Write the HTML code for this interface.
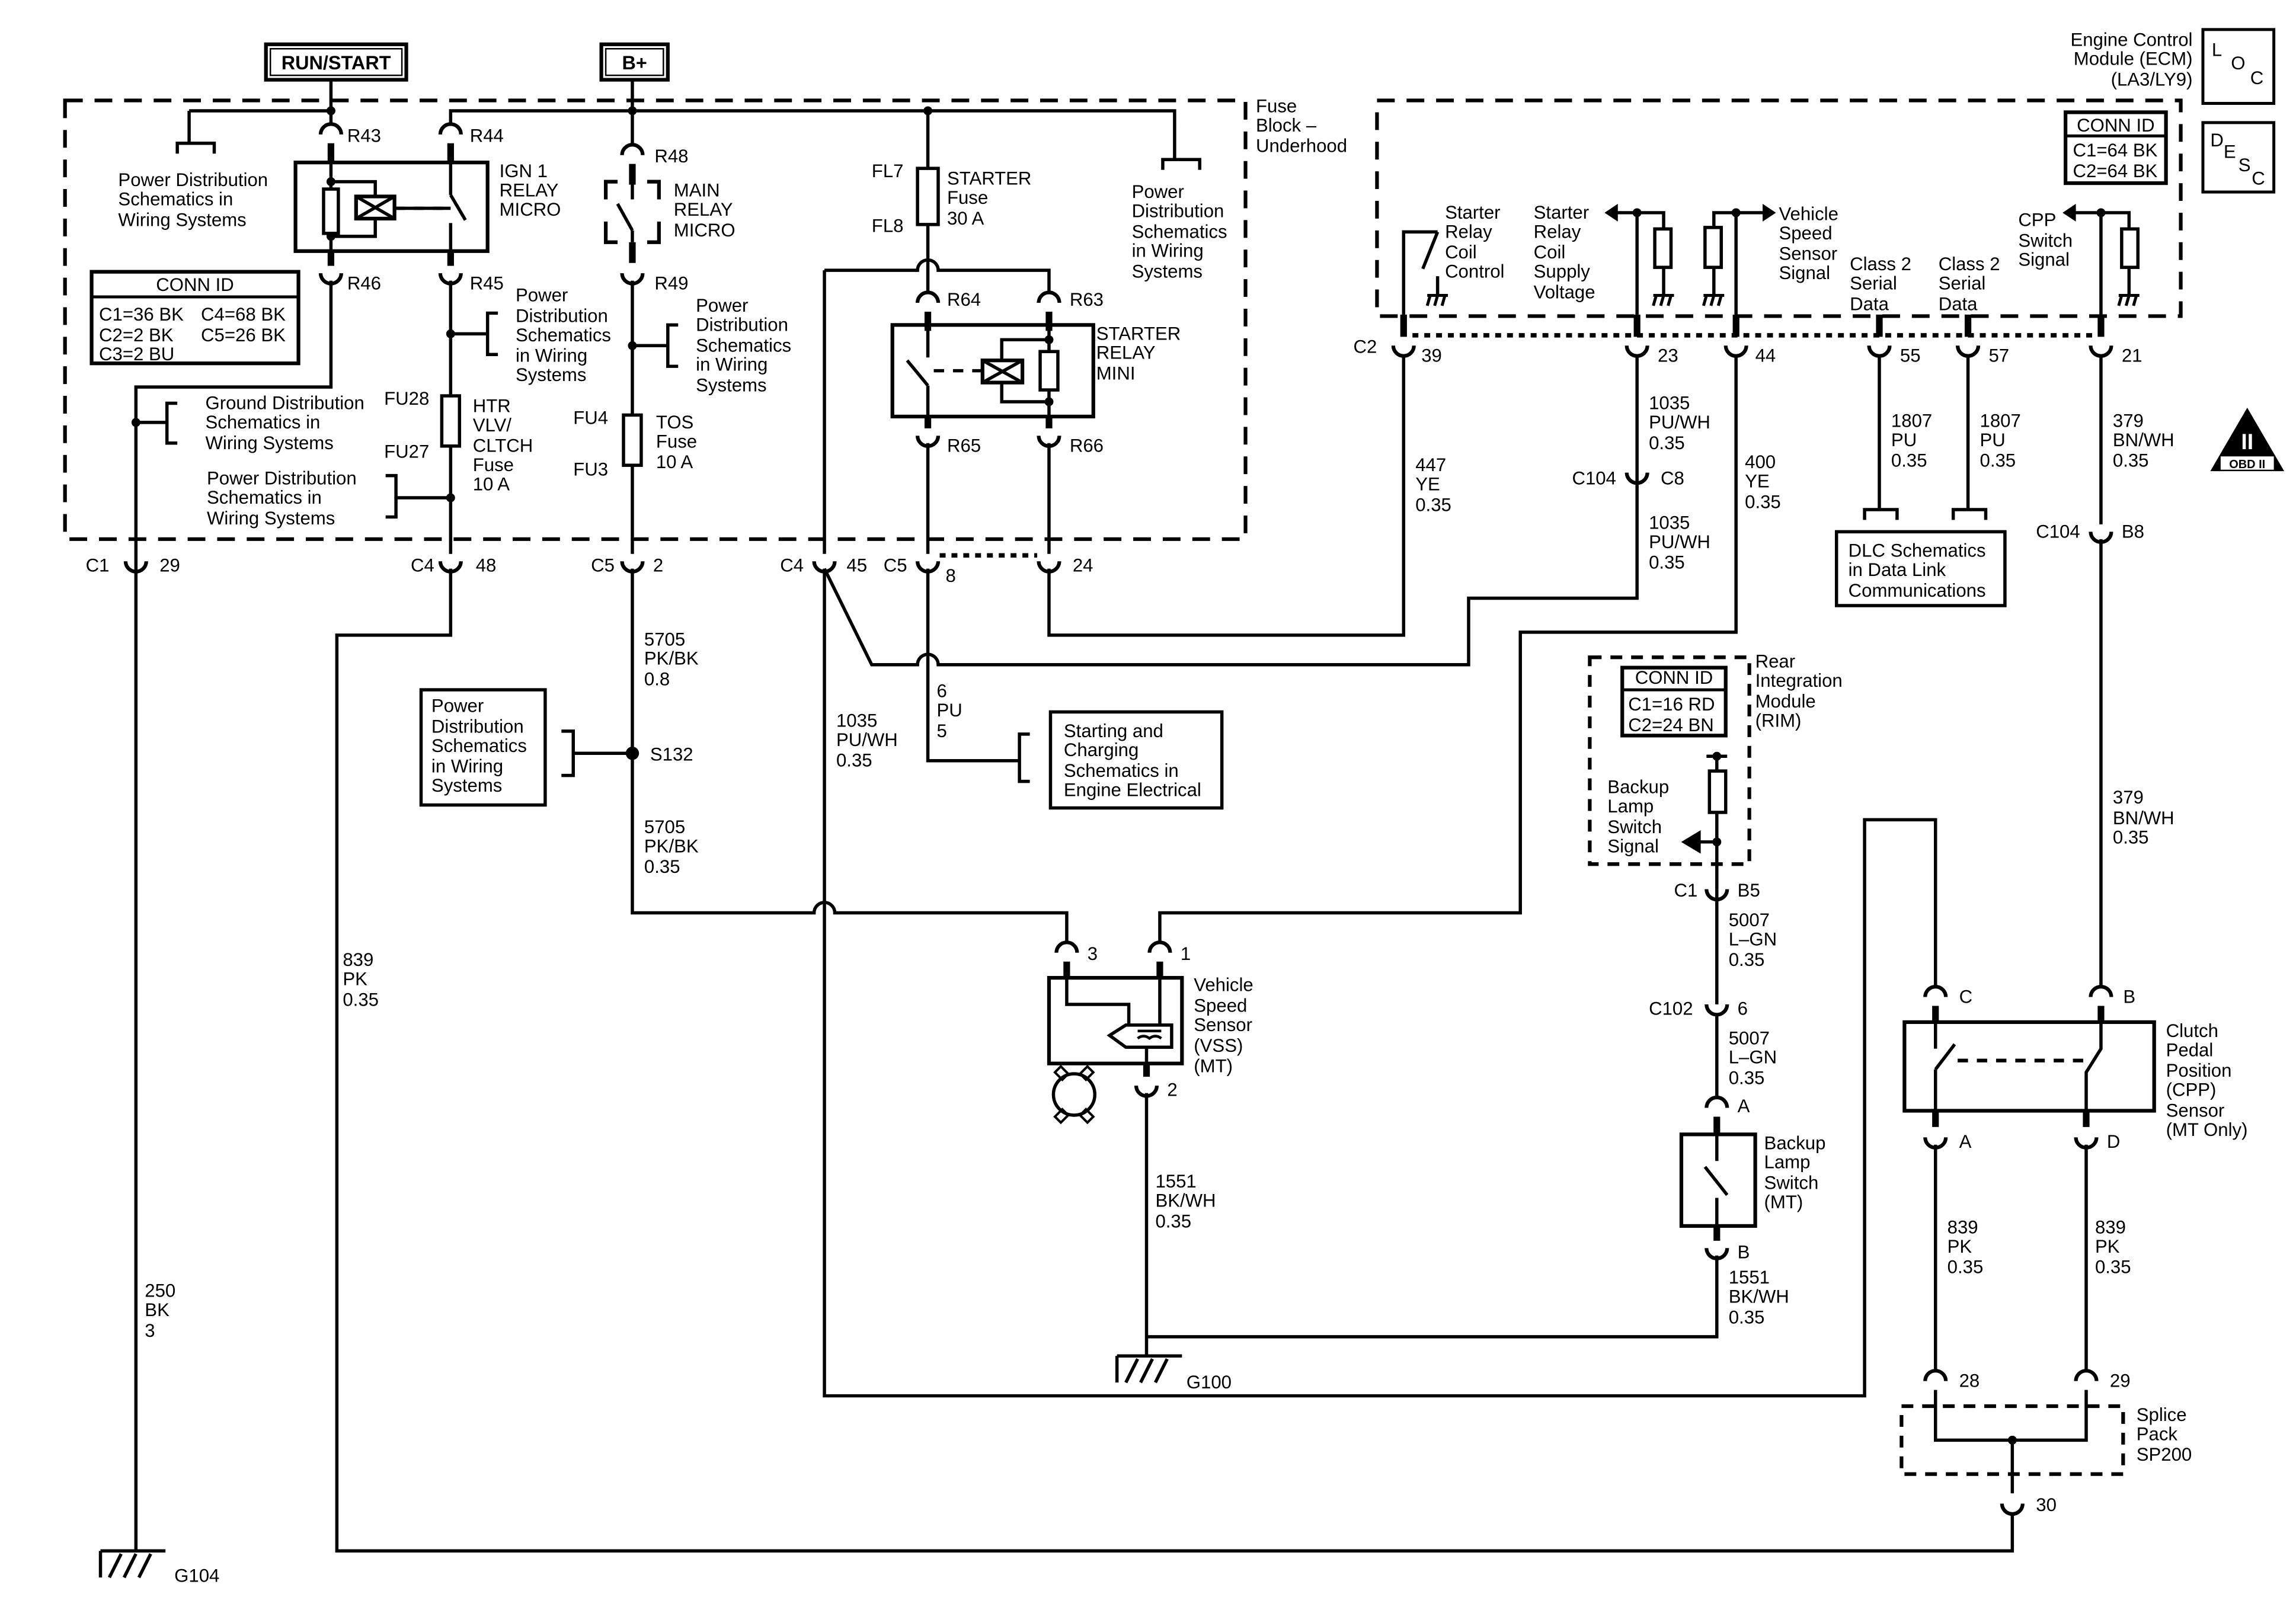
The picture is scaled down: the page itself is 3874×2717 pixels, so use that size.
<!DOCTYPE html>
<html><head><meta charset="utf-8"><style>
html,body{margin:0;padding:0;background:#fff}
svg{display:block}
text{font-family:"Liberation Sans",Arial,sans-serif;font-size:12.5px;fill:#000}
</style></head><body>
<svg width="3874" height="2717" viewBox="0 0 1554 1090" preserveAspectRatio="none" xmlns="http://www.w3.org/2000/svg">
<defs>
<path id="cup" d="M-7,-6 A7,7 0 0 0 7,-6" fill="none" stroke="#000" stroke-width="2.5"/>
<path id="cap" d="M-7,6 A7,7 0 0 1 7,6" fill="none" stroke="#000" stroke-width="2.5"/>
<g id="gnd" stroke="#000" stroke-width="2" fill="none"><path d="M-7,0 H7 M-5,0 L-7,7 M0,0 L-2,7 M5,0 L3,7"/></g>
</defs>
<rect width="1554" height="1090" fill="#fff"/>
<g fill="none" stroke="#000" stroke-width="2.2">
<!-- top boxes -->
<rect x="180" y="30" width="95" height="24" stroke-width="2.5"/>
<rect x="183" y="33" width="89" height="18" stroke-width="1"/>
<rect x="407" y="30" width="45" height="24" stroke-width="2.5"/>
<rect x="410" y="33" width="39" height="18" stroke-width="1"/>
<!-- fuse block dashed -->
<rect x="44" y="68" width="799" height="297" stroke-width="2.5" stroke-dasharray="12,8"/>
<!-- ECM dashed -->
<rect x="932" y="68" width="544" height="146" stroke-width="2.5" stroke-dasharray="12,8"/>
<!-- RUN/START -->
<path d="M224,54 V84 M128,75 H224 M128,75 V97 M120,104 V97 H145 V104"/>
<path d="M224,97 V110 M305,97 V110 M224,170 V180 M305,170 V180" stroke-width="4.5"/>
<rect x="200" y="110" width="130" height="60" stroke-width="2.5"/>
<path d="M224,110 V170 M224,123 H254 V133 M224,160 H254 V148 M267,141 H305 M305,110 V132 M305,132 L315,149 M305,151 V170"/>
<path d="M267,141 H305" stroke-dasharray="7,6"/>
<rect x="219" y="128" width="10" height="30" fill="#fff"/>
<rect x="241" y="133" width="26" height="15" stroke-width="2.5"/>
<path d="M241,133 L267,148 M241,148 L267,133"/>
<path d="M224,190 V262 H92 V1050"/>
<path d="M92,286 H113 M120,273 H113 V300 H120"/>
<!-- B+ bus -->
<path d="M428,54 V98 M305,84 V75 H795 V108 M787,115 V108 H812 V115"/>
<!-- 305 line -->
<path d="M305,190 V268 M305,302 V375 M305,226 H330 M337,212 H330 V240 H337 M305,337 H268 M261,322 H268 V350 H261"/>
<rect x="299" y="268" width="12" height="34" fill="#fff"/>
<!-- main relay -->
<path d="M428,111 V125 M428,164 V178" stroke-width="4.5"/>
<path d="M418,123 H410 V135 M438,123 H446 V135 M410,150 V164 H418 M446,150 V164 H438" stroke-width="2.5"/>
<path d="M428,123 V135 M418,138 L428,156 M428,156 V164"/>
<path d="M428,190 V281 M428,315 V375 M428,234 H452 M459,220 H452 V248 H459"/>
<rect x="422" y="281" width="12" height="34" fill="#fff"/>
<!-- starter fuse & relay -->
<path d="M628,75 V114 M628,152 V198 M558,183 H621 A7,7 0 0 1 635,183 H710 V198 M558,183 V375"/>
<rect x="621" y="114" width="14" height="38" fill="#fff"/>
<path d="M628,211 V224 M710,211 V224 M628,282 V290 M710,282 V290" stroke-width="4.5"/>
<rect x="604" y="220" width="136" height="62" stroke-width="2.5"/>
<path d="M628,220 V242 M614,244 L628,261 M628,261 V282 M710,220 V282 M710,230 H678 V244 M710,272 H678 V259"/>
<path d="M632,251 H665" stroke-dasharray="7,6"/>
<rect x="665" y="244" width="27" height="15" stroke-width="2.5"/>
<path d="M665,244 L692,259 M665,259 L692,244"/>
<rect x="704" y="238" width="12" height="26" fill="#fff"/>
<!-- bottom row -->
<path d="M628,300 V375 M710,300 V375"/>
<path d="M636,376 H702" stroke-dasharray="4,4" stroke-width="3"/>
<!-- below fuse block -->
<path d="M305,385 V430 H228 V1050 H1362 V1025"/>
<path d="M428,385 V618 H551 A7,7 0 0 1 565,618 H722 V638"/>
<path d="M428,510 H388 M380,495 H388 V525 H380"/>
<rect x="285" y="467" width="84" height="78" stroke-width="2.2"/>
<path d="M558,385 V945 H1262 V555 H1310 V668"/>
<path d="M558,385 L590,450 H621 A7,7 0 0 1 635,450 H994 V405 H1108 V240"/>
<path d="M950,240 V430 H710 V385"/>
<path d="M1175,240 V428 H1029 V618 H785 V638"/>
<path d="M628,385 V515 H690 M697,497 H690 V529 H697"/>
<rect x="711" y="482" width="116" height="65" stroke-width="2.2"/>
<!-- VSS -->
<path d="M722,651 V662 M785,651 V662 M776,720 V729" stroke-width="4.5"/>
<rect x="710" y="662" width="90" height="58" stroke-width="2.5"/>
<path d="M722,662 V680 H764 V694 M785,662 V694 M776,709 V720"/>
<path d="M751,701 L762,694 H793 V709 H762 Z" stroke-width="2.2"/>
<path d="M770,698 H786 M770,703 q4,-3 8,0 q4,-3 8,0" stroke-width="1.8"/>
<circle cx="727" cy="741" r="14"/>
<path d="M714,726 l4,-4 l5,5 l-4,4 Z M740,726 l-4,-4 l-5,5 l4,4 Z M714,756 l4,4 l5,-5 l-4,-4 Z M740,756 l-4,4 l-5,-5 l4,-4 Z" stroke-width="1.6"/>
<path d="M776,740 V918"/>
<path d="M1162,850 V905 H776"/>
<path d="M756,918 H800 M756,918 V936 M762,936 L770,920 M772,936 L780,920 M782,936 L790,920" stroke-width="2.2"/>
<!-- G104 -->
<path d="M68,1050 H112 M68,1050 V1068 M74,1068 L82,1052 M84,1068 L92,1052 M94,1068 L102,1052" stroke-width="2.2"/>
<!-- RIM -->
<rect x="1076" y="445" width="108" height="140" stroke-width="2.5" stroke-dasharray="8,6"/>
<rect x="1098" y="452" width="70" height="46" stroke-width="2.5"/>
<path d="M1098,467 H1168" stroke-width="2"/>
<path d="M1155,512 H1169 M1162,512 V522 M1162,550 V602 M1162,570 H1150"/>
<path d="M1140,570 L1150,564 V576 Z" fill="#000"/>
<rect x="1157" y="522" width="11" height="28" fill="#fff"/>
<path d="M1162,602 V680 M1162,686 V743"/>
<path d="M1162,756 V768 M1162,830 V840" stroke-width="4.5"/>
<rect x="1138" y="768" width="50" height="62" stroke-width="2.5"/>
<path d="M1162,768 V786 M1154,790 L1169,809 M1162,811 V830"/>
<!-- CPP -->
<path d="M1310,681 V692 M1422,681 V692 M1310,752 V763 M1412,752 V763" stroke-width="4.5"/>
<rect x="1289" y="692" width="169" height="60" stroke-width="2.5"/>
<path d="M1310,692 V710 M1310,724 L1323,707 M1310,724 V752 M1422,692 V710 L1412,726 V752"/>
<path d="M1325,718 H1414" stroke-dasharray="7,6" stroke-width="2.5"/>
<path d="M1310,775 V928 M1412,775 V928 M1422,240 V355 M1422,365 V668"/>
<rect x="1287" y="952" width="150" height="46" stroke-width="2.5" stroke-dasharray="8,6"/>
<path d="M1310,941 V975 H1412 V941 M1362,975 V1011"/>
<!-- DLC -->
<path d="M1272,240 V345 M1332,240 V345 M1262,352 V345 H1284 V352 M1322,352 V345 H1344 V352"/>
<rect x="1243" y="360" width="114" height="50" stroke-width="2.2"/>
<!-- ECM interior -->
<path d="M950,213 V228 M1108,213 V228 M1175,213 V228 M1272,213 V228 M1332,213 V228 M1422,213 V228" stroke-width="4.5"/>
<path d="M956,227 H1416" stroke-dasharray="4,4" stroke-width="3"/>
<path d="M950,213 V157 H973 M973,157 L963,182 M973,187 V200"/>
<path d="M1108,213 V144 H1093 M1108,144 H1126 V155 M1126,181 V200"/>
<rect x="1120" y="155" width="11" height="26" fill="#fff"/>
<path d="M1175,213 V144 H1195 M1175,144 H1160 V154 M1160,181 V200"/>
<rect x="1154" y="154" width="11" height="27" fill="#fff"/>
<path d="M1422,213 V144 H1404 M1422,144 H1441 V155 M1441,181 V200"/>
<rect x="1436" y="155" width="11" height="26" fill="#fff"/>
<rect x="1398" y="76" width="68" height="48" stroke-width="2.5"/>
<path d="M1398,92 H1466" stroke-width="2"/>
<rect x="1491" y="20" width="48" height="50" stroke-width="2"/>
<rect x="1491" y="83" width="48" height="47" stroke-width="2"/>
<!-- left CONN ID -->
<rect x="62" y="184" width="140" height="62" stroke-width="2.5"/>
<path d="M62,201 H202" stroke-width="2"/>
</g>
<!-- arrowheads & dots -->
<g fill="#000">
<path d="M1086,144 L1095,138 V150 Z M1202,144 L1193,138 V150 Z M1396,144 L1405,138 V150 Z"/>
<circle cx="224" cy="75" r="3"/><circle cx="428" cy="75" r="3"/><circle cx="628" cy="75" r="3"/>
<circle cx="224" cy="123" r="3"/><circle cx="224" cy="160" r="3"/>
<circle cx="710" cy="230" r="3"/><circle cx="710" cy="272" r="3"/>
<circle cx="92" cy="286" r="3"/><circle cx="305" cy="226" r="3"/><circle cx="305" cy="337" r="3"/>
<circle cx="428" cy="234" r="3"/><circle cx="428" cy="510" r="4.5"/>
<circle cx="1108" cy="144" r="3"/><circle cx="1175" cy="144" r="3"/><circle cx="1422" cy="144" r="3"/>
<circle cx="1162" cy="512" r="3"/><circle cx="1162" cy="570" r="3"/><circle cx="1362" cy="975" r="3"/>
<path d="M1521,276 L1546,319 H1496 Z"/>
</g>
<rect x="1503" y="309" width="36" height="9" fill="#fff"/>
<text x="1521" y="317" text-anchor="middle" style="font-size:8px;font-weight:bold">OBD II</text>
<text x="1521" y="304" text-anchor="middle" style="font-size:15px;font-weight:bold;fill:#fff">II</text>
<!-- grounds in ECM -->
<use href="#gnd" x="973" y="200"/><use href="#gnd" x="1126" y="200"/><use href="#gnd" x="1160" y="200"/><use href="#gnd" x="1441" y="200"/>
<!-- connector symbols -->
<use href="#cap" x="224" y="85"/><use href="#cap" x="305" y="85"/><use href="#cap" x="428" y="99"/>
<use href="#cup" x="224" y="191"/><use href="#cup" x="305" y="191"/><use href="#cup" x="428" y="191"/>
<use href="#cap" x="628" y="199"/><use href="#cap" x="710" y="199"/>
<use href="#cup" x="628" y="301"/><use href="#cup" x="710" y="301"/>
<use href="#cup" x="92" y="386"/><use href="#cup" x="305" y="386"/><use href="#cup" x="428" y="386"/>
<use href="#cup" x="558" y="386"/><use href="#cup" x="628" y="386"/><use href="#cup" x="710" y="386"/>
<use href="#cup" x="950" y="240"/><use href="#cup" x="1108" y="240"/><use href="#cup" x="1175" y="240"/>
<use href="#cup" x="1272" y="240"/><use href="#cup" x="1332" y="240"/><use href="#cup" x="1422" y="240"/>
<use href="#cup" x="1108" y="326"/><use href="#cup" x="1422" y="366"/>
<use href="#cap" x="722" y="639"/><use href="#cap" x="785" y="639"/><use href="#cup" x="776" y="741"/>
<use href="#cup" x="1162" y="608"/><use href="#cup" x="1162" y="686"/><use href="#cap" x="1162" y="744"/><use href="#cup" x="1162" y="851"/>
<use href="#cap" x="1310" y="669"/><use href="#cap" x="1422" y="669"/><use href="#cup" x="1310" y="776"/><use href="#cup" x="1412" y="776"/>
<use href="#cap" x="1310" y="929"/><use href="#cap" x="1412" y="929"/><use href="#cup" x="1362" y="1024"/>
<!-- texts -->
<text x="227.5" y="47" text-anchor="middle" style="font-weight:bold;font-size:13px">RUN/START</text>
<text x="429.5" y="47" text-anchor="middle" style="font-weight:bold;font-size:13px">B+</text>
<text x="80" y="126">Power Distribution</text><text x="80" y="139">Schematics in</text><text x="80" y="153">Wiring Systems</text>
<text x="235" y="96">R43</text><text x="318" y="96">R44</text><text x="235" y="196">R46</text><text x="318" y="196">R45</text>
<text x="338" y="120">IGN 1</text><text x="338" y="133">RELAY</text><text x="338" y="146">MICRO</text>
<text x="132" y="197" text-anchor="middle">CONN ID</text>
<text x="67" y="217">C1=36 BK</text><text x="136" y="217">C4=68 BK</text>
<text x="67" y="231">C2=2 BK</text><text x="136" y="231">C5=26 BK</text>
<text x="67" y="244">C3=2 BU</text>
<text x="139" y="277">Ground Distribution</text><text x="139" y="290">Schematics in</text><text x="139" y="304">Wiring Systems</text>
<text x="349" y="204">Power</text><text x="349" y="218">Distribution</text><text x="349" y="231">Schematics</text><text x="349" y="245">in Wiring</text><text x="349" y="258">Systems</text>
<text x="260" y="274">FU28</text><text x="260" y="310">FU27</text>
<text x="320" y="279">HTR</text><text x="320" y="292">VLV/</text><text x="320" y="306">CLTCH</text><text x="320" y="319">Fuse</text><text x="320" y="332">10 A</text>
<text x="140" y="328">Power Distribution</text><text x="140" y="341">Schematics in</text><text x="140" y="355">Wiring Systems</text>
<text x="443" y="110">R48</text><text x="443" y="196">R49</text>
<text x="456" y="133">MAIN</text><text x="456" y="146">RELAY</text><text x="456" y="160">MICRO</text>
<text x="471" y="211">Power</text><text x="471" y="224">Distribution</text><text x="471" y="238">Schematics</text><text x="471" y="251">in Wiring</text><text x="471" y="265">Systems</text>
<text x="388" y="287">FU4</text><text x="388" y="322">FU3</text>
<text x="444" y="290">TOS</text><text x="444" y="303">Fuse</text><text x="444" y="317">10 A</text>
<text x="590" y="120">FL7</text><text x="590" y="157">FL8</text>
<text x="641" y="125">STARTER</text><text x="641" y="138">Fuse</text><text x="641" y="152">30 A</text>
<text x="641" y="207">R64</text><text x="724" y="207">R63</text><text x="641" y="306">R65</text><text x="724" y="306">R66</text>
<text x="742" y="230">STARTER</text><text x="742" y="243">RELAY</text><text x="742" y="257">MINI</text>
<text x="766" y="134">Power</text><text x="766" y="147">Distribution</text><text x="766" y="161">Schematics</text><text x="766" y="174">in Wiring</text><text x="766" y="188">Systems</text>
<text x="850" y="76">Fuse</text><text x="850" y="89">Block –</text><text x="850" y="103">Underhood</text>
<text x="58" y="387">C1</text><text x="108" y="387">29</text>
<text x="278" y="387">C4</text><text x="322" y="387">48</text>
<text x="400" y="387">C5</text><text x="442" y="387">2</text>
<text x="528" y="387">C4</text><text x="573" y="387">45</text>
<text x="598" y="387">C5</text><text x="640" y="394">8</text><text x="726" y="387">24</text>
<text x="436" y="437">5705</text><text x="436" y="450">PK/BK</text><text x="436" y="464">0.8</text>
<text x="440" y="515">S132</text>
<text x="436" y="564">5705</text><text x="436" y="577">PK/BK</text><text x="436" y="591">0.35</text>
<text x="292" y="482">Power</text><text x="292" y="496">Distribution</text><text x="292" y="509">Schematics</text><text x="292" y="523">in Wiring</text><text x="292" y="536">Systems</text>
<text x="232" y="654">839</text><text x="232" y="667">PK</text><text x="232" y="681">0.35</text>
<text x="98" y="878">250</text><text x="98" y="891">BK</text><text x="98" y="905">3</text>
<text x="118" y="1071">G104</text>
<text x="566" y="492">1035</text><text x="566" y="505">PU/WH</text><text x="566" y="519">0.35</text>
<text x="634" y="472">6</text><text x="634" y="485">PU</text><text x="634" y="499">5</text>
<text x="720" y="499">Starting and</text><text x="720" y="512">Charging</text><text x="720" y="526">Schematics in</text><text x="720" y="539">Engine Electrical</text>
<text x="736" y="650">3</text><text x="799" y="650">1</text><text x="790" y="742">2</text>
<text x="808" y="671">Vehicle</text><text x="808" y="685">Speed</text><text x="808" y="698">Sensor</text><text x="808" y="712">(VSS)</text><text x="808" y="726">(MT)</text>
<text x="782" y="804">1551</text><text x="782" y="817">BK/WH</text><text x="782" y="831">0.35</text>
<text x="803" y="940">G100</text>
<text x="958" y="319">447</text><text x="958" y="332">YE</text><text x="958" y="346">0.35</text>
<text x="1116" y="277">1035</text><text x="1116" y="290">PU/WH</text><text x="1116" y="304">0.35</text>
<text x="1064" y="328">C104</text><text x="1124" y="328">C8</text>
<text x="1116" y="358">1035</text><text x="1116" y="371">PU/WH</text><text x="1116" y="385">0.35</text>
<text x="1181" y="317">400</text><text x="1181" y="330">YE</text><text x="1181" y="344">0.35</text>
<text x="916" y="239">C2</text><text x="962" y="245">39</text><text x="1122" y="245">23</text><text x="1188" y="245">44</text>
<text x="1286" y="245">55</text><text x="1346" y="245">57</text><text x="1436" y="245">21</text>
<text x="978" y="148">Starter</text><text x="978" y="161">Relay</text><text x="978" y="175">Coil</text><text x="978" y="188">Control</text>
<text x="1038" y="148">Starter</text><text x="1038" y="161">Relay</text><text x="1038" y="175">Coil</text><text x="1038" y="188">Supply</text><text x="1038" y="202">Voltage</text>
<text x="1204" y="149">Vehicle</text><text x="1204" y="162">Speed</text><text x="1204" y="176">Sensor</text><text x="1204" y="189">Signal</text>
<text x="1252" y="183">Class 2</text><text x="1252" y="196">Serial</text><text x="1252" y="210">Data</text>
<text x="1312" y="183">Class 2</text><text x="1312" y="196">Serial</text><text x="1312" y="210">Data</text>
<text x="1366" y="153">CPP</text><text x="1366" y="167">Switch</text><text x="1366" y="180">Signal</text>
<text x="1484" y="31" text-anchor="end">Engine Control</text><text x="1484" y="44" text-anchor="end">Module (ECM)</text><text x="1484" y="58" text-anchor="end">(LA3/LY9)</text>
<text x="1432" y="89" text-anchor="middle">CONN ID</text><text x="1403" y="106">C1=64 BK</text><text x="1403" y="120">C2=64 BK</text>
<text x="1497" y="38">L</text><text x="1510" y="47">O</text><text x="1523" y="57">C</text>
<text x="1496" y="99">D</text><text x="1505" y="107">E</text><text x="1515" y="116">S</text><text x="1524" y="125">C</text>
<text x="1280" y="289">1807</text><text x="1280" y="302">PU</text><text x="1280" y="316">0.35</text>
<text x="1340" y="289">1807</text><text x="1340" y="302">PU</text><text x="1340" y="316">0.35</text>
<text x="1251" y="377">DLC Schematics</text><text x="1251" y="390">in Data Link</text><text x="1251" y="404">Communications</text>
<text x="1430" y="289">379</text><text x="1430" y="302">BN/WH</text><text x="1430" y="316">0.35</text>
<text x="1378" y="364">C104</text><text x="1436" y="364">B8</text>
<text x="1430" y="544">379</text><text x="1430" y="558">BN/WH</text><text x="1430" y="571">0.35</text>
<text x="1133" y="463" text-anchor="middle">CONN ID</text><text x="1102" y="481">C1=16 RD</text><text x="1102" y="495">C2=24 BN</text>
<text x="1188" y="452">Rear</text><text x="1188" y="465">Integration</text><text x="1188" y="479">Module</text><text x="1188" y="492">(RIM)</text>
<text x="1088" y="537">Backup</text><text x="1088" y="550">Lamp</text><text x="1088" y="564">Switch</text><text x="1088" y="577">Signal</text>
<text x="1133" y="607">C1</text><text x="1176" y="607">B5</text>
<text x="1170" y="627">5007</text><text x="1170" y="640">L–GN</text><text x="1170" y="654">0.35</text>
<text x="1116" y="687">C102</text><text x="1176" y="687">6</text>
<text x="1170" y="707">5007</text><text x="1170" y="720">L–GN</text><text x="1170" y="734">0.35</text>
<text x="1176" y="753">A</text>
<text x="1194" y="778">Backup</text><text x="1194" y="791">Lamp</text><text x="1194" y="805">Switch</text><text x="1194" y="818">(MT)</text>
<text x="1176" y="852">B</text>
<text x="1170" y="869">1551</text><text x="1170" y="882">BK/WH</text><text x="1170" y="896">0.35</text>
<text x="1326" y="679">C</text><text x="1437" y="679">B</text><text x="1326" y="777">A</text><text x="1426" y="777">D</text>
<text x="1466" y="702">Clutch</text><text x="1466" y="715">Pedal</text><text x="1466" y="729">Position</text><text x="1466" y="742">(CPP)</text><text x="1466" y="756">Sensor</text><text x="1466" y="769">(MT Only)</text>
<text x="1318" y="835">839</text><text x="1318" y="848">PK</text><text x="1318" y="862">0.35</text>
<text x="1418" y="835">839</text><text x="1418" y="848">PK</text><text x="1418" y="862">0.35</text>
<text x="1326" y="939">28</text><text x="1428" y="939">29</text><text x="1378" y="1023">30</text>
<text x="1446" y="962">Splice</text><text x="1446" y="975">Pack</text><text x="1446" y="989">SP200</text>
</svg>
</body></html>
